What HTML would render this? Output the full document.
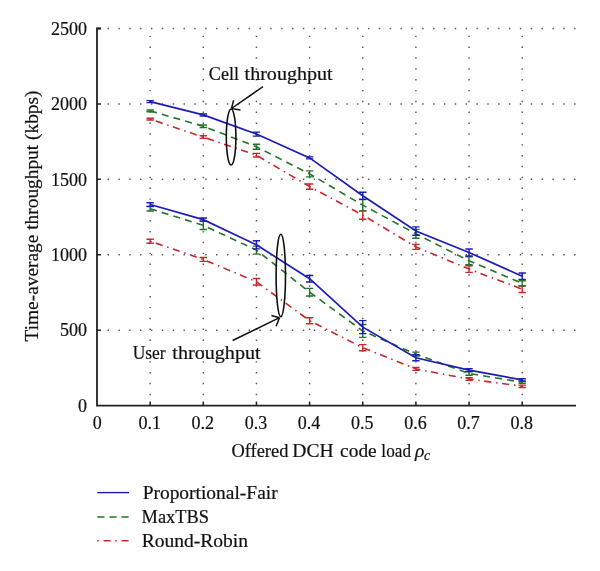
<!DOCTYPE html>
<html><head><meta charset="utf-8"><style>
html,body{margin:0;padding:0;background:#fff;width:600px;height:571px;overflow:hidden}
svg{display:block;will-change:transform}
</style></head><body>
<svg width="600" height="571" viewBox="0 0 600 571">
<g stroke="#5a5a5a" stroke-width="1.45" stroke-dasharray="1.45 9.40" fill="none"><line x1="150.15" y1="405.98" x2="150.15" y2="27.50"/><line x1="203.30" y1="405.98" x2="203.30" y2="27.50"/><line x1="256.45" y1="405.98" x2="256.45" y2="27.50"/><line x1="309.60" y1="405.98" x2="309.60" y2="27.50"/><line x1="362.75" y1="405.98" x2="362.75" y2="27.50"/><line x1="415.90" y1="405.98" x2="415.90" y2="27.50"/><line x1="469.05" y1="405.98" x2="469.05" y2="27.50"/><line x1="522.20" y1="405.98" x2="522.20" y2="27.50"/><line x1="96.68" y1="330.18" x2="576.5" y2="330.18"/><line x1="96.68" y1="254.76" x2="576.5" y2="254.76"/><line x1="96.68" y1="179.34" x2="576.5" y2="179.34"/><line x1="96.68" y1="103.92" x2="576.5" y2="103.92"/><line x1="96.68" y1="28.50" x2="576.5" y2="28.50"/></g>
<polyline points="150.15,119.15 203.30,137.10 256.45,155.21 309.60,186.58 362.75,215.09 415.90,246.92 469.05,269.09 522.20,289.15" fill="none" stroke="#c8272e" stroke-width="1.6" stroke-dasharray="1.5 4.5 7.2 4.8"/>
<path d="M146.45,118.25H153.85M146.45,120.05H153.85M150.15,118.25V120.05M199.60,135.80H207.00M199.60,138.40H207.00M203.30,135.80V138.40M252.75,153.41H260.15M252.75,157.01H260.15M256.45,153.41V157.01M305.90,183.98H313.30M305.90,189.18H313.30M309.60,183.98V189.18M359.05,210.89H366.45M359.05,219.29H366.45M362.75,210.89V219.29M412.20,244.42H419.60M412.20,249.42H419.60M415.90,244.42V249.42M465.35,265.79H472.75M465.35,272.39H472.75M469.05,265.79V272.39M518.50,285.75H525.90M518.50,292.55H525.90M522.20,285.75V292.55" fill="none" stroke="#c8272e" stroke-width="1.4"/>
<polyline points="150.15,110.86 203.30,126.24 256.45,146.76 309.60,173.91 362.75,205.13 415.90,233.79 469.05,260.79 522.20,283.42" fill="none" stroke="#23742a" stroke-width="1.6" stroke-dasharray="7 5.15"/>
<path d="M146.45,109.96H153.85M146.45,111.76H153.85M150.15,109.96V111.76M199.60,125.04H207.00M199.60,127.44H207.00M203.30,125.04V127.44M252.75,144.26H260.15M252.75,149.26H260.15M256.45,144.26V149.26M305.90,170.91H313.30M305.90,176.91H313.30M309.60,170.91V176.91M359.05,199.43H366.45M359.05,210.83H366.45M362.75,199.43V210.83M412.20,229.39H419.60M412.20,238.19H419.60M415.90,229.39V238.19M465.35,256.79H472.75M465.35,264.79H472.75M469.05,256.79V264.79M518.50,280.82H525.90M518.50,286.02H525.90M522.20,280.82V286.02" fill="none" stroke="#23742a" stroke-width="1.4"/>
<polyline points="150.15,101.66 203.30,114.93 256.45,134.09 309.60,157.92 362.75,195.78 415.90,231.08 469.05,252.50 522.20,276.18" fill="none" stroke="#1c1cb4" stroke-width="1.7"/>
<path d="M146.45,100.66H153.85M146.45,102.66H153.85M150.15,100.66V102.66M199.60,113.93H207.00M199.60,115.93H207.00M203.30,113.93V115.93M252.75,132.09H260.15M252.75,136.09H260.15M256.45,132.09V136.09M305.90,156.92H313.30M305.90,158.92H313.30M309.60,156.92V158.92M359.05,192.18H366.45M359.05,199.38H366.45M362.75,192.18V199.38M412.20,226.88H419.60M412.20,235.28H419.60M415.90,226.88V235.28M465.35,249.00H472.75M465.35,256.00H472.75M469.05,249.00V256.00M518.50,272.98H525.90M518.50,279.38H525.90M522.20,272.98V279.38" fill="none" stroke="#1c1cb4" stroke-width="1.4"/>
<polyline points="150.15,241.18 203.30,259.44 256.45,281.76 309.60,320.68 362.75,347.68 415.90,368.95 469.05,379.05 522.20,386.29" fill="none" stroke="#c8272e" stroke-width="1.6" stroke-dasharray="1.5 4.5 7.2 4.8"/>
<path d="M146.45,239.18H153.85M146.45,243.18H153.85M150.15,239.18V243.18M199.60,257.54H207.00M199.60,261.34H207.00M203.30,257.54V261.34M252.75,278.56H260.15M252.75,284.96H260.15M256.45,278.56V284.96M305.90,317.68H313.30M305.90,323.68H313.30M309.60,317.68V323.68M359.05,344.58H366.45M359.05,350.78H366.45M362.75,344.58V350.78M412.20,367.55H419.60M412.20,370.35H419.60M415.90,367.55V370.35M465.35,377.75H472.75M465.35,380.35H472.75M469.05,377.75V380.35M518.50,385.09H525.90M518.50,387.49H525.90M522.20,385.09V387.49" fill="none" stroke="#c8272e" stroke-width="1.4"/>
<polyline points="150.15,208.75 203.30,225.35 256.45,250.08 309.60,292.17 362.75,330.93 415.90,354.16 469.05,373.47 522.20,382.22" fill="none" stroke="#23742a" stroke-width="1.6" stroke-dasharray="7 5.15"/>
<path d="M146.45,206.55H153.85M146.45,210.95H153.85M150.15,206.55V210.95M199.60,221.20H207.00M199.60,229.50H207.00M203.30,221.20V229.50M252.75,246.08H260.15M252.75,254.08H260.15M256.45,246.08V254.08M305.90,288.37H313.30M305.90,295.97H313.30M309.60,288.37V295.97M359.05,324.53H366.45M359.05,337.33H366.45M362.75,324.53V337.33M412.20,352.16H419.60M412.20,356.16H419.60M415.90,352.16V356.16M465.35,371.67H472.75M465.35,375.27H472.75M469.05,371.67V375.27M518.50,381.22H525.90M518.50,383.22H525.90M522.20,381.22V383.22" fill="none" stroke="#23742a" stroke-width="1.4"/>
<polyline points="150.15,204.53 203.30,219.61 256.45,244.80 309.60,278.74 362.75,327.16 415.90,357.78 469.05,370.15 522.20,379.96" fill="none" stroke="#1c1cb4" stroke-width="1.7"/>
<path d="M146.45,202.68H153.85M146.45,206.38H153.85M150.15,202.68V206.38M199.60,218.06H207.00M199.60,221.16H207.00M203.30,218.06V221.16M252.75,240.70H260.15M252.75,248.90H260.15M256.45,240.70V248.90M305.90,275.44H313.30M305.90,282.04H313.30M309.60,275.44V282.04M359.05,320.66H366.45M359.05,333.66H366.45M362.75,320.66V333.66M412.20,354.78H419.60M412.20,360.78H419.60M415.90,354.78V360.78M465.35,368.65H472.75M465.35,371.65H472.75M469.05,368.65V371.65M518.50,378.76H525.90M518.50,381.16H525.90M522.20,378.76V381.16" fill="none" stroke="#1c1cb4" stroke-width="1.4"/>
<path d="M101.0,28.5H97.0V405.6H576" fill="none" stroke="#222" stroke-width="1.8"/>
<path d="M97.0,330.18H101.0M97.0,254.76H101.0M97.0,179.34H101.0M97.0,103.92H101.0M97.0,28.50H101.0M150.15,405.6V401.6M203.30,405.6V401.6M256.45,405.6V401.6M309.60,405.6V401.6M362.75,405.6V401.6M415.90,405.6V401.6M469.05,405.6V401.6M522.20,405.6V401.6" stroke="#222" stroke-width="1.5"/>
<ellipse cx="231.1" cy="137" rx="4.8" ry="28" fill="none" stroke="#111" stroke-width="1.6"/>
<path d="M263,86.6L231.5,108.5M231.5,108.5L233.6,100.2M231.5,108.5L240.5,109.9" fill="none" stroke="#111" stroke-width="1.5"/>
<ellipse cx="280.8" cy="275.5" rx="4.7" ry="41.3" fill="none" stroke="#111" stroke-width="1.6"/>
<path d="M232.6,340.5L279.5,317.7M279.5,317.7L271.4,315.6M279.5,317.7L276.1,326.3" fill="none" stroke="#111" stroke-width="1.5"/>
<text x="87" y="411.90" text-anchor="end" font-size="18" font-family="Liberation Serif" fill="#111" stroke="#111" stroke-width="0.2">0</text>
<text x="87" y="336.48" text-anchor="end" font-size="18" font-family="Liberation Serif" fill="#111" stroke="#111" stroke-width="0.2">500</text>
<text x="87" y="261.06" text-anchor="end" font-size="18" font-family="Liberation Serif" fill="#111" stroke="#111" stroke-width="0.2">1000</text>
<text x="87" y="185.64" text-anchor="end" font-size="18" font-family="Liberation Serif" fill="#111" stroke="#111" stroke-width="0.2">1500</text>
<text x="87" y="110.22" text-anchor="end" font-size="18" font-family="Liberation Serif" fill="#111" stroke="#111" stroke-width="0.2">2000</text>
<text x="87" y="34.80" text-anchor="end" font-size="18" font-family="Liberation Serif" fill="#111" stroke="#111" stroke-width="0.2">2500</text>
<text x="97.2" y="429" text-anchor="middle" font-size="18" font-family="Liberation Serif" fill="#111" stroke="#111" stroke-width="0.2">0</text>
<text x="149.65" y="429" text-anchor="middle" font-size="18" font-family="Liberation Serif" fill="#111" stroke="#111" stroke-width="0.2">0.1</text>
<text x="202.80" y="429" text-anchor="middle" font-size="18" font-family="Liberation Serif" fill="#111" stroke="#111" stroke-width="0.2">0.2</text>
<text x="255.95" y="429" text-anchor="middle" font-size="18" font-family="Liberation Serif" fill="#111" stroke="#111" stroke-width="0.2">0.3</text>
<text x="309.10" y="429" text-anchor="middle" font-size="18" font-family="Liberation Serif" fill="#111" stroke="#111" stroke-width="0.2">0.4</text>
<text x="362.25" y="429" text-anchor="middle" font-size="18" font-family="Liberation Serif" fill="#111" stroke="#111" stroke-width="0.2">0.5</text>
<text x="415.40" y="429" text-anchor="middle" font-size="18" font-family="Liberation Serif" fill="#111" stroke="#111" stroke-width="0.2">0.6</text>
<text x="468.55" y="429" text-anchor="middle" font-size="18" font-family="Liberation Serif" fill="#111" stroke="#111" stroke-width="0.2">0.7</text>
<text x="521.70" y="429" text-anchor="middle" font-size="18" font-family="Liberation Serif" fill="#111" stroke="#111" stroke-width="0.2">0.8</text>
<text x="415" y="457.3" font-size="19.5" font-style="italic" font-family="Liberation Serif" fill="#111" stroke="#111" stroke-width="0.2">ρ</text><text x="424" y="460" font-size="14" font-style="italic" font-family="Liberation Serif" fill="#111" stroke="#111" stroke-width="0.2">c</text>
<text transform="translate(37.8,216) rotate(-90)" text-anchor="middle" font-size="18.5" font-family="Liberation Serif" fill="#111" stroke="#111" stroke-width="0.2" textLength="251" lengthAdjust="spacingAndGlyphs">Time-average throughput (kbps)</text>
<text x="208.86" y="79.9" font-size="18.5" font-family="Liberation Serif" fill="#111" stroke="#111" stroke-width="0.2" textLength="30.16" lengthAdjust="spacingAndGlyphs">Cell</text>
<text x="244.55" y="79.9" font-size="18.5" font-family="Liberation Serif" fill="#111" stroke="#111" stroke-width="0.2" textLength="88.14" lengthAdjust="spacingAndGlyphs">throughput</text>
<text x="132.72" y="359.1" font-size="18.5" font-family="Liberation Serif" fill="#111" stroke="#111" stroke-width="0.2" textLength="32.96" lengthAdjust="spacingAndGlyphs">User</text>
<text x="172.38" y="359.1" font-size="18.5" font-family="Liberation Serif" fill="#111" stroke="#111" stroke-width="0.2" textLength="88.25" lengthAdjust="spacingAndGlyphs">throughput</text>
<text x="231.41" y="457.3" font-size="18.5" font-family="Liberation Serif" fill="#111" stroke="#111" stroke-width="0.2" textLength="57.00" lengthAdjust="spacingAndGlyphs">Offered</text>
<text x="292.38" y="457.3" font-size="18.5" font-family="Liberation Serif" fill="#111" stroke="#111" stroke-width="0.2" textLength="41.22" lengthAdjust="spacingAndGlyphs">DCH</text>
<text x="340.12" y="457.3" font-size="18.5" font-family="Liberation Serif" fill="#111" stroke="#111" stroke-width="0.2" textLength="36.58" lengthAdjust="spacingAndGlyphs">code</text>
<text x="381.36" y="457.3" font-size="18.5" font-family="Liberation Serif" fill="#111" stroke="#111" stroke-width="0.2" textLength="29.63" lengthAdjust="spacingAndGlyphs">load</text>
<text x="142.65" y="498.75" font-size="18" font-family="Liberation Serif" fill="#111" stroke="#111" stroke-width="0.2" textLength="135.01" lengthAdjust="spacingAndGlyphs">Proportional-Fair</text>
<text x="141.59" y="523.2" font-size="18" font-family="Liberation Serif" fill="#111" stroke="#111" stroke-width="0.2" textLength="67.40" lengthAdjust="spacingAndGlyphs">MaxTBS</text>
<text x="141.66" y="546.5" font-size="18" font-family="Liberation Serif" fill="#111" stroke="#111" stroke-width="0.2" textLength="106.32" lengthAdjust="spacingAndGlyphs">Round-Robin</text>
<line x1="97.3" y1="492.6" x2="129" y2="492.6" stroke="#1c1cb4" stroke-width="1.4"/>
<line x1="97.3" y1="517" x2="129" y2="517" stroke="#23742a" stroke-width="1.4" stroke-dasharray="7.2 4.9"/>
<line x1="97.3" y1="540.7" x2="129" y2="540.7" stroke="#c8272e" stroke-width="1.4" stroke-dasharray="1.5 4.8 7 4.7"/>
</svg>
</body></html>
